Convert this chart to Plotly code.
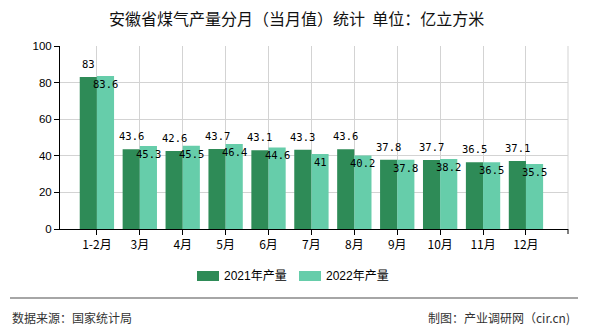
import plotly.graph_objects as go

categories = ["1-2月", "3月", "4月", "5月", "6月", "7月", "8月", "9月", "10月", "11月", "12月"]
values_2021 = [83, 43.6, 42.6, 43.7, 43.1, 43.3, 43.6, 37.8, 37.7, 36.5, 37.1]
values_2022 = [83.6, 45.3, 45.5, 46.4, 44.6, 41, 40.2, 37.8, 38.2, 36.5, 35.5]
series_names = ["2021年产量", "2022年产量"]
y_ticks = [0, 20, 40, 60, 80, 100]

title_text = "安徽省煤气产量分月（当月值）统计  单位：亿立方米"
source_text = "数据来源：国家统计局"
credit_text = "制图：产业调研网（cir.cn)"

C_DARK = "#2E8B57"
C_LIGHT = "#66CDAA"

W, H = 590, 330
ML, MR, MT, MB = 60, 22, 46, 101
PW = W - ML - MR
PH = H - MT - MB


def px(x):
    return (x - ML) / PW


def py(y):
    return (H - MB - y) / PH


fig = go.Figure()
fig.add_trace(go.Bar(x=categories, y=values_2021, name=series_names[0],
                     marker=dict(color=C_DARK, line=dict(width=0)), showlegend=False))
fig.add_trace(go.Bar(x=categories, y=values_2022, name=series_names[1],
                     marker=dict(color=C_LIGHT, line=dict(width=0)), showlegend=False))

label_font = dict(family="DejaVu Sans Mono, Liberation Mono, monospace", size=10.5, color="#000")
annotations = []
cat_px = PW / (10.98 + 0.86)
off = 0.2 * cat_px
for c, v in zip(categories, values_2021):
    annotations.append(dict(x=c, y=v, xref="x", yref="y", text=f"{v:g}", showarrow=False,
                            xshift=-off, yanchor="bottom", yshift=5, font=label_font))
for c, v in zip(categories, values_2022):
    annotations.append(dict(x=c, y=v, xref="x", yref="y", text=f"{v:g}", showarrow=False,
                            xshift=off, yanchor="top", yshift=0, font=label_font))

# title
annotations.append(dict(x=px(296), y=py(18), xref="paper", yref="paper", text=title_text,
                        showarrow=False, xanchor="center", yanchor="middle",
                        font=dict(family="Noto Sans CJK SC", size=16, color="#111")))
# legend texts
leg_font = dict(family="Liberation Sans, Noto Sans CJK SC", size=12, color="#000")
annotations.append(dict(x=px(222), y=py(276), xref="paper", yref="paper", text=series_names[0],
                        showarrow=False, xanchor="left", yanchor="middle", font=leg_font))
annotations.append(dict(x=px(324), y=py(276), xref="paper", yref="paper", text=series_names[1],
                        showarrow=False, xanchor="left", yanchor="middle", font=leg_font))
# footer
foot_font = dict(family="Noto Sans CJK SC", size=12, color="#333")
annotations.append(dict(x=px(10), y=py(317), xref="paper", yref="paper", text=source_text,
                        showarrow=False, xanchor="left", yanchor="middle", font=foot_font))
annotations.append(dict(x=px(572), y=py(317), xref="paper", yref="paper", text=credit_text,
                        showarrow=False, xanchor="right", yanchor="middle", font=foot_font))

shapes = [
    # right border
    dict(type="line", xref="paper", yref="paper", x0=1, x1=1, y0=0, y1=1,
         line=dict(color="#d3d3d3", width=1)),
    dict(type="line", xref="paper", yref="paper", x0=1, x1=1, y0=0, y1=py(234),
         line=dict(color="#000", width=1)),
    # legend symbols
    dict(type="rect", xref="paper", yref="paper", x0=px(197), x1=px(219), y0=py(281), y1=py(271),
         fillcolor=C_DARK, line=dict(width=0)),
    dict(type="rect", xref="paper", yref="paper", x0=px(299), x1=px(321), y0=py(281), y1=py(271),
         fillcolor=C_LIGHT, line=dict(width=0)),
    # footer line
    dict(type="line", xref="paper", yref="paper", x0=px(10), x1=px(578), y0=py(298), y1=py(298),
         line=dict(color="#888", width=1.5)),
]

fig.update_layout(
    width=W, height=H,
    margin=dict(l=ML, r=MR, t=MT, b=MB),
    paper_bgcolor="white", plot_bgcolor="white",
    barmode="group", bargap=0.2, bargroupgap=0,
    showlegend=False,
    annotations=annotations, shapes=shapes,
    xaxis=dict(type="category", range=[-0.86, 10.98], showgrid=True, gridcolor="#d3d3d3",
               gridwidth=1, showline=True, linecolor="#000", linewidth=1,
               ticks="outside", ticklen=5, tickcolor="#000",
               tickfont=dict(family="Noto Sans CJK SC", size=12, color="#000"), fixedrange=True),
    yaxis=dict(range=[0, 100], tickvals=y_ticks, showgrid=True, gridcolor="#d3d3d3", gridwidth=1,
               showline=True, linecolor="#000", linewidth=1, ticks="outside", ticklen=5,
               tickcolor="#000", zeroline=False,
               tickfont=dict(family="Liberation Sans", size=11.5, color="#000"), fixedrange=True),
)

fig.write_html("out.html")
